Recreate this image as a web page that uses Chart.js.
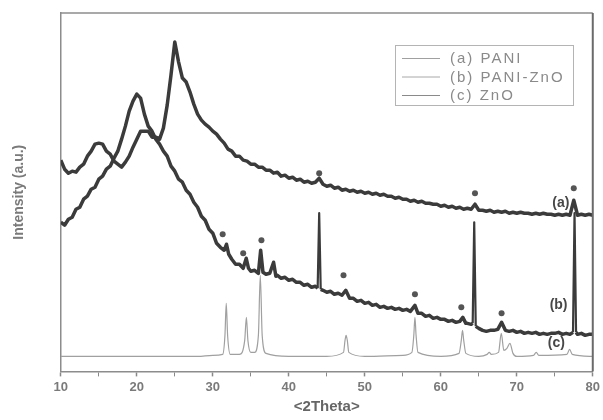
<!DOCTYPE html>
<html>
<head>
<meta charset="utf-8">
<script src="https://cdn.jsdelivr.net/npm/chart.js@4.4.1/dist/chart.umd.min.js"></script>
<style>
  html, body { margin: 0; padding: 0; background: #fff; }
  #wrap { width: 603px; height: 420px; }
</style>
</head>
<body>
<div id="wrap"><canvas id="xrd" width="603" height="420"></canvas></div>
<script>
// 2theta positions and intensities (a.u.)

// (a) PANI
const thetaA = [
  10, 10.5, 11, 11.5, 12, 12.5, 13, 13.5, 14, 14.5,
  15, 15.5, 16, 16.5, 17, 17.5, 18, 18.5, 19, 19.5,
  20, 20.5, 21, 21.5, 22, 22.5, 23, 23.5, 24, 24.5,
  25, 25.5, 26, 26.5, 27, 27.5, 28, 28.5, 29, 29.5,
  30, 30.5, 31, 31.5, 32, 32.5, 33, 33.5, 34, 34.5,
  35, 35.5, 36, 36.5, 37, 37.5, 38, 38.5, 39, 39.5,
  40, 40.5, 41, 41.5, 42, 42.5, 43, 43.5, 44, 44.5,
  45, 45.5, 46, 46.5, 47, 47.5, 48, 48.5, 49, 49.5,
  50, 50.5, 51, 51.5, 52, 52.5, 53, 53.5, 54, 54.5,
  55, 55.5, 56, 56.5, 57, 57.5, 58, 58.5, 59, 59.5,
  60, 60.5, 61, 61.5, 62, 62.5, 63, 63.5, 64, 64.5,
  65, 65.5, 66, 66.5, 67, 67.5, 68, 68.5, 69, 69.5,
  70, 70.5, 71, 71.5, 72, 72.5, 73, 73.5, 74, 74.5,
  75, 75.5, 76, 76.5, 77, 77.5, 78, 78.5, 79, 79.5,
  80
];
const intenA = [
  211, 202, 198, 200, 199, 204, 207, 215, 220, 227,
  228, 227, 220, 217, 210, 207, 204, 209, 215, 224,
  232, 240, 240, 240, 234, 234, 232, 243, 266, 296,
  329, 309, 293, 289, 279, 267, 257, 251, 247, 244,
  240, 237, 232, 228, 222, 220, 215, 215, 211, 210,
  207, 207, 204, 204, 201, 201, 198, 199, 195, 196,
  193, 194, 191, 192, 189, 190, 188, 189, 193, 187,
  185, 186, 183, 184, 181, 182, 180, 181, 179, 180,
  178, 179, 177, 178, 176, 177, 175, 175, 173, 174,
  172, 172, 170, 171, 169, 170, 168, 168, 167, 167,
  165, 166, 164, 165, 163, 164, 162, 163, 162, 167,
  161, 161, 160, 161, 159, 160, 159, 160, 158, 159,
  158, 159, 158, 158, 157, 158, 157, 158, 157, 157,
  156, 157, 156, 157, 156, 171, 156, 157, 156, 157,
  156
];

// (b) PANI-ZnO
const thetaB = [
  10, 10.5, 11, 11.5, 12, 12.5, 13, 13.5, 14, 14.5,
  15, 15.5, 16, 16.5, 17, 17.5, 18, 18.5, 19, 19.5,
  20, 20.5, 21, 21.5, 22, 22.5, 23, 23.5, 24, 24.5,
  25, 25.5, 26, 26.5, 27, 27.5, 28, 28.5, 29, 29.5,
  30, 30.5, 31, 31.5, 31.8, 32.1, 32.5, 33, 33.5, 34,
  34.4, 34.7, 35, 35.5, 36, 36.3, 36.6, 37, 37.5, 38,
  38.3, 38.5, 39, 39.5, 40, 40.5, 41, 41.5, 42, 42.5,
  43, 43.5, 43.8, 44, 44.2, 44.5, 45, 45.5, 46, 46.5,
  47, 47.5, 48, 48.5, 49, 49.5, 50, 50.5, 51, 51.5,
  52, 52.5, 53, 53.5, 54, 54.5, 55, 55.5, 56, 56.6,
  57, 57.5, 58, 58.5, 59, 59.5, 60, 60.5, 61, 61.5,
  62, 62.5, 62.9, 63.3, 63.5, 64, 64.2, 64.4, 64.6, 65,
  65.5, 66, 66.5, 67, 67.5, 68, 68.5, 69, 69.5, 70,
  70.5, 71, 71.5, 72, 72.5, 73, 73.5, 74, 74.5, 75,
  75.5, 76, 76.5, 77, 77.4, 77.6, 77.8, 78, 78.5, 79,
  79.5, 80
];
const intenB = [
  149, 146, 152, 154, 162, 164, 172, 175, 182, 184,
  192, 195, 202, 205, 213, 220, 232, 245, 260, 270,
  277, 273, 257, 245, 240, 232, 227, 220, 215, 205,
  200, 192, 189, 181, 177, 169, 164, 155, 151, 142,
  138, 128, 124, 121, 127, 117, 112, 107, 107, 103,
  113, 103, 100, 101, 98, 121, 99, 97, 98, 109,
  95, 96, 93, 94, 91, 92, 89, 89, 86, 87,
  84, 85, 83, 158, 82, 81, 79, 80, 77, 78,
  76, 81, 73, 73, 70, 71, 68, 69, 66, 67,
  64, 65, 63, 64, 62, 63, 61, 62, 60, 66,
  58, 58, 55, 56, 53, 54, 52, 52, 50, 51,
  49, 50, 54, 48, 48, 47, 48, 149, 45, 43,
  41, 40, 41, 41, 42, 49, 41, 40, 41, 39,
  40, 38, 39, 38, 39, 37, 38, 37, 38, 38,
  39, 37, 38, 37, 39, 158, 39, 37, 38, 36,
  37, 37
];

// (c) ZnO
const thetaC = [
  10, 20, 28, 30, 31.3, 31.6, 31.77, 31.95, 32.3, 33.5,
  34.2, 34.42, 34.62, 35, 35.5, 36, 36.25, 36.5, 37, 40,
  45, 47.2, 47.4, 47.54, 47.7, 47.9, 50, 55, 56.2, 56.45,
  56.6, 56.75, 57, 60, 62.4, 62.7, 62.86, 63.02, 63.3, 65,
  66.1, 66.38, 66.65, 67.6, 67.96, 68.3, 68.7, 69.1, 69.5, 70,
  72.2, 72.56, 72.9, 76.6, 76.95, 77.3, 80
];
const intenC = [
  15, 15, 15, 16, 17, 36, 68, 36, 17, 17,
  31, 54, 31, 19, 19, 36, 96, 36, 18, 15,
  15, 19, 31, 36, 31, 19, 15, 16, 19, 36,
  54, 36, 19, 15, 18, 31, 41, 31, 18, 15,
  17, 19, 17, 19, 38, 21, 23, 28, 18, 15,
  16, 19, 16, 17, 22, 17, 15
];

// asterisk marks over the reflections
const markTheta = [44.0, 64.5, 77.5, 31.3, 34.0, 36.4, 47.2, 56.6, 62.7, 68.0];
const markInten = [198, 178, 183, 137, 118, 131, 96, 77, 64, 58];

const seriesNames = ['(a) PANI', '(b) PANI-ZnO', '(c) ZnO'];
const xTicks = [10, 20, 30, 40, 50, 60, 70, 80];

const xy = (xs, ys) => xs.map((x, i) => ({ x: x, y: ys[i] }));

// sharp reflections are drawn thinner than the noisy background band
const spikeWidth = c => (Math.abs(c.p1.parsed.y - c.p0.parsed.y) > 40 ? 2.2 : 3.5);

Chart.defaults.font.family = '"Liberation Sans", Arial, sans-serif';

// top and right side of the box
const framePlugin = {
  id: 'frame',
  afterDraw(chart) {
    const { ctx, chartArea: a } = chart;
    ctx.save();
    ctx.strokeStyle = '#8c8c8c';
    ctx.lineWidth = 1.5;
    ctx.beginPath();
    ctx.moveTo(a.left, a.top);
    ctx.lineTo(a.right, a.top);
    ctx.stroke();
    ctx.strokeStyle = '#6a6a6a';
    ctx.lineWidth = 2;
    ctx.beginPath();
    ctx.moveTo(a.right, a.top);
    ctx.lineTo(a.right, a.bottom);
    ctx.stroke();
    ctx.restore();
  }
};

// (a) (b) (c) tags next to the curves
const tagPlugin = {
  id: 'tags',
  afterDatasetsDraw(chart) {
    const { ctx, scales: { x, y } } = chart;
    const tags = [['(a)', 75.8, 168], ['(b)', 75.5, 66], ['(c)', 75.2, 28]];
    ctx.save();
    ctx.font = 'bold 14px "Liberation Sans", Arial, sans-serif';
    ctx.fillStyle = '#474747';
    ctx.textAlign = 'center';
    ctx.textBaseline = 'middle';
    tags.forEach(t => ctx.fillText(t[0], x.getPixelForValue(t[1]), y.getPixelForValue(t[2])));
    ctx.restore();
  }
};

// legend box in the upper right
const legendBox = {
  id: 'legendBox',
  afterDraw(chart) {
    const ctx = chart.ctx;
    const left = 395, top = 45, w = 178, h = 60;
    ctx.save();
    ctx.fillStyle = '#fff';
    ctx.fillRect(left, top, w, h);
    ctx.strokeStyle = '#b4b4b4';
    ctx.lineWidth = 1;
    ctx.strokeRect(left + 0.5, top + 0.5, w, h);
    ctx.font = '15px "Liberation Sans", Arial, sans-serif';
    ctx.letterSpacing = '2px';
    ctx.textBaseline = 'middle';
    const lineCols = ['#a0a0a0', '#a8a8a8', '#8a8a8a'];
    for (let i = 0; i < 3; i++) {
      const yy = top + 13 + i * 18.5;
      ctx.strokeStyle = lineCols[i];
      ctx.beginPath();
      ctx.moveTo(402, yy + 0.5);
      ctx.lineTo(440, yy + 0.5);
      ctx.stroke();
      ctx.fillStyle = '#8a8a8a';
      ctx.fillText(chart.data.datasets[i].label, 450, yy + 1);
    }
    ctx.restore();
  }
};

new Chart(document.getElementById('xrd'), {
  type: 'line',
  data: {
    datasets: [
      {
        label: seriesNames[0],
        data: xy(thetaA, intenA),
        borderColor: '#3b3b3b',
        borderWidth: 3.5,
        borderJoinStyle: 'round',
        segment: { borderWidth: spikeWidth },
        pointRadius: 0,
        tension: 0
      },
      {
        label: seriesNames[1],
        data: xy(thetaB, intenB),
        borderColor: '#3b3b3b',
        borderWidth: 3.5,
        borderJoinStyle: 'round',
        segment: { borderWidth: spikeWidth },
        pointRadius: 0,
        tension: 0
      },
      {
        label: seriesNames[2],
        data: xy(thetaC, intenC),
        borderColor: '#a0a0a0',
        borderWidth: 1.2,
        pointRadius: 0,
        cubicInterpolationMode: 'monotone'
      },
      {
        label: 'marks',
        data: xy(markTheta, markInten),
        showLine: false,
        pointRadius: 3,
        pointBackgroundColor: '#555',
        pointBorderWidth: 0
      }
    ]
  },
  options: {
    responsive: false,
    animation: false,
    devicePixelRatio: 1,
    layout: { padding: { top: 13, right: 9, bottom: 2, left: 3 } },
    plugins: {
      legend: { display: false },
      tooltip: { enabled: false }
    },
    scales: {
      x: {
        type: 'linear',
        min: 10,
        max: 80,
        afterBuildTicks(scale) {
          const all = [];
          xTicks.forEach((v, i) => {
            all.push({ value: v });
            if (i < xTicks.length - 1) all.push({ value: v + 5 });
          });
          scale.ticks = all;
        },
        ticks: {
          autoSkip: false,
          maxRotation: 0,
          padding: 3,
          color: '#7a7a7a',
          font: { size: 13, weight: 'bold' },
          callback: v => (xTicks.includes(v) ? String(v) : '')
        },
        grid: {
          display: true,
          drawOnChartArea: false,
          drawTicks: true,
          tickLength: 5,
          tickColor: '#888',
          tickWidth: c => (c.tick && xTicks.includes(c.tick.value) ? 1.5 : 1)
        },
        border: { display: true, color: '#8c8c8c', width: 1.5 },
        title: {
          display: true,
          text: '<2Theta>',
          color: '#666',
          font: { size: 15, weight: 'bold' },
          padding: { top: 0, bottom: 2 }
        }
      },
      y: {
        min: 0,
        max: 358,
        ticks: { display: false },
        grid: { display: false, drawTicks: false },
        border: { display: true, color: '#8c8c8c', width: 1.5 },
        title: {
          display: true,
          text: 'Intensity (a.u.)',
          color: '#7a7a7a',
          font: { size: 14, weight: 'bold' },
          padding: { top: 8, bottom: 33 }
        }
      }
    }
  },
  plugins: [framePlugin, tagPlugin, legendBox]
});
</script>
</body>
</html>
